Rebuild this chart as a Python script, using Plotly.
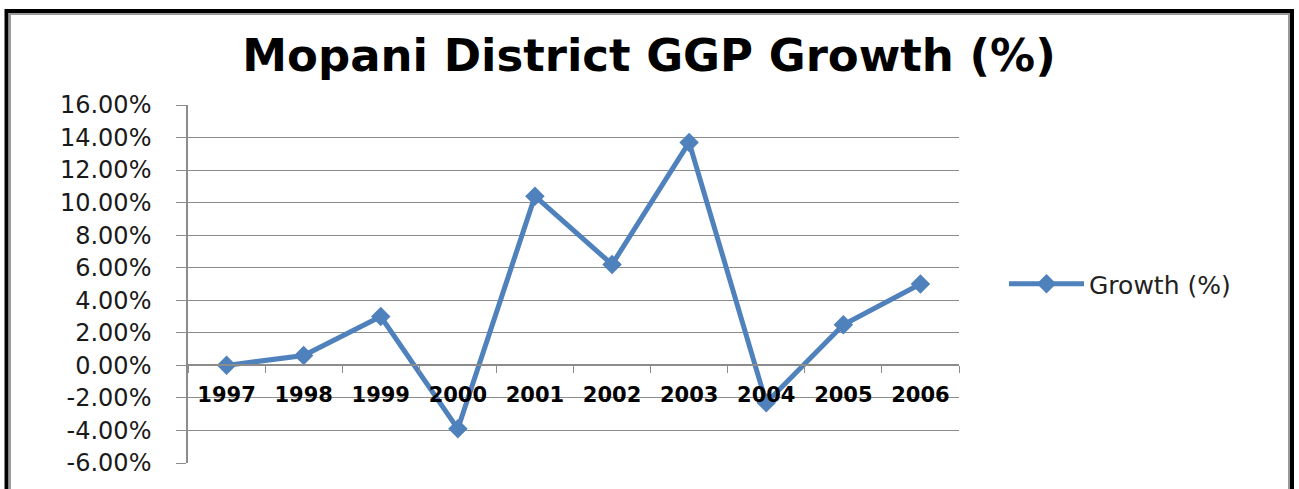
import plotly.graph_objects as go

years = ["1997", "1998", "1999", "2000", "2001", "2002", "2003", "2004", "2005", "2006"]
growth = [0.0, 0.6, 3.0, -3.9, 10.4, 6.2, 13.7, -2.3, 2.5, 5.0]
y_ticks = [-6, -4, -2, 0, 2, 4, 6, 8, 10, 12, 14, 16]
y_labels = [f"{v:.2f}%" for v in y_ticks]

W, H = 1299, 489
L, R, T, B = 188, 959, 105, 463  # plot area in px
pw, ph = R - L, B - T
ymin, ymax = -6, 16


def px2x(px):
    return (px - L) / pw


def py2y(py):
    return (B - py) / ph


blue = "#4F81BD"
grid = "#8c8c8c"

fig = go.Figure()
fig.add_trace(go.Scatter(
    x=years, y=growth, mode="lines+markers", name="Growth (%)",
    line=dict(color=blue, width=5),
    marker=dict(symbol="diamond", size=15, color=blue),
))

shapes = [
    dict(type="rect", xref="paper", yref="paper",
         x0=px2x(6.5), x1=px2x(1292), y0=py2y(530), y1=py2y(11),
         line=dict(color="black", width=4), fillcolor="rgba(0,0,0,0)", layer="above"),
    dict(type="rect", xref="paper", yref="paper",
         x0=px2x(10), x1=px2x(1289), y0=py2y(530), y1=py2y(14),
         line=dict(color="#9a9a9a", width=2), fillcolor="rgba(0,0,0,0)", layer="above"),
]

fig.update_layout(
    width=W, height=H,
    margin=dict(l=L, r=W - R, t=T, b=H - B),
    paper_bgcolor="white", plot_bgcolor="white",
    title=dict(text="<b>Mopani District GGP Growth (%)</b>", x=649 / W, xref="container",
               xanchor="center", y=1 - 55 / H, yanchor="middle",
               font=dict(family="DejaVu Sans", size=45, color="black")),
    showlegend=True,
    legend=dict(x=px2x(1004), y=py2y(284), xanchor="left", yanchor="middle",
                font=dict(family="DejaVu Sans", size=25, color="#222222"),
                itemwidth=75, bgcolor="rgba(0,0,0,0)"),
    xaxis=dict(type="category", anchor="free", position=(0 - ymin) / (ymax - ymin),
               showline=True, linecolor=grid, linewidth=1.5,
               ticks="outside", ticklen=7, tickcolor=grid, tickson="boundaries",
               showgrid=False, range=[-0.5, 9.5], ticklabelstandoff=11,
               tickfont=dict(family="DejaVu Sans", size=21, color="black", weight="bold")),
    yaxis=dict(range=[ymin, ymax], tickvals=y_ticks, ticktext=y_labels,
               showline=True, linecolor=grid, linewidth=1.5,
               showgrid=True, gridcolor=grid, gridwidth=1.2, zeroline=False,
               ticks="outside", ticklen=10, tickcolor=grid, ticklabelstandoff=20,
               tickfont=dict(family="DejaVu Sans", size=24, color="#1a1a1a")),
    shapes=shapes,
)

fig.write_html("out.html", config={"displayModeBar": False},
               post_script="document.body.style.margin='0';document.body.style.overflow='hidden';")
